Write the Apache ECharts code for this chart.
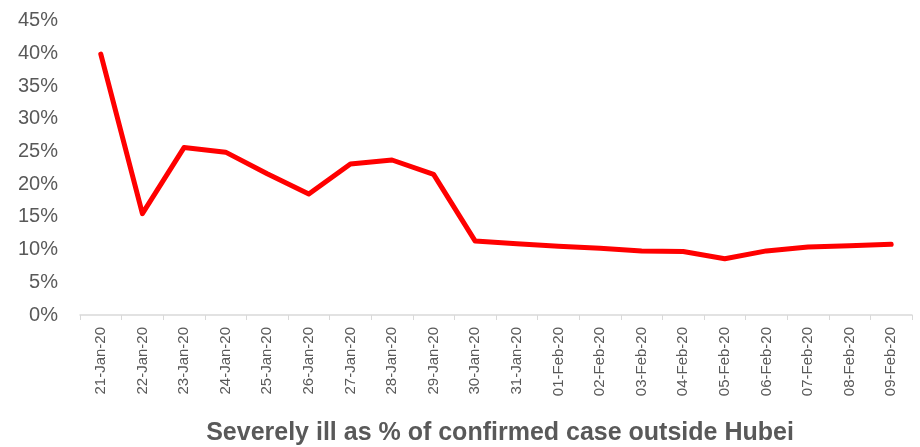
<!DOCTYPE html>
<html><head><meta charset="utf-8">
<script src="https://cdn.jsdelivr.net/npm/echarts@6/dist/echarts.min.js"></script>
<style>html,body{margin:0;padding:0;background:#fff}#c{width:920px;height:447px}</style>
</head><body><div id="c"></div>
<script>
const categories = ['21-Jan-20','22-Jan-20','23-Jan-20','24-Jan-20','25-Jan-20','26-Jan-20','27-Jan-20','28-Jan-20','29-Jan-20','30-Jan-20','31-Jan-20','01-Feb-20','02-Feb-20','03-Feb-20','04-Feb-20','05-Feb-20','06-Feb-20','07-Feb-20','08-Feb-20','09-Feb-20'];
const severePct = [39.9,15.5,25.6,24.9,21.6,18.5,23.1,23.7,21.5,11.3,10.9,10.5,10.2,9.8,9.7,8.6,9.8,10.4,10.6,10.8];
const titleText = 'Severely ill as % of confirmed case outside Hubei';

const chart = echarts.init(document.getElementById('c'), null, {renderer:'canvas'});
chart.setOption({
  animation:false,
  backgroundColor:'#fff',
  title:{text:titleText,left:495,textAlign:'center',top:416,
    textStyle:{fontFamily:'Liberation Sans, sans-serif',fontWeight:'bold',fontSize:25,color:'#595959'}},
  grid:{left:80,right:8,top:20.7,bottom:132},
  xAxis:{type:'category',data:categories,boundaryGap:true,
    axisLine:{lineStyle:{color:'#d9d9d9',width:1.5}},
    axisTick:{show:true,length:5,lineStyle:{color:'#d9d9d9'}},
    axisLabel:{rotate:90,interval:0,margin:12,fontSize:15,color:'#595959',fontFamily:'Liberation Sans, sans-serif'}},
  yAxis:{type:'value',min:0,max:45,interval:5,
    axisLine:{show:false},axisTick:{show:false},splitLine:{show:false},
    axisLabel:{formatter:'{value}%',margin:22,fontSize:20,color:'#595959',fontFamily:'Liberation Sans, sans-serif'}},
  series:[{type:'line',data:severePct,showSymbol:false,symbol:'none',
    lineStyle:{color:'#ff0000',width:5,join:'round',cap:'round'}}]
});
</script></body></html>
